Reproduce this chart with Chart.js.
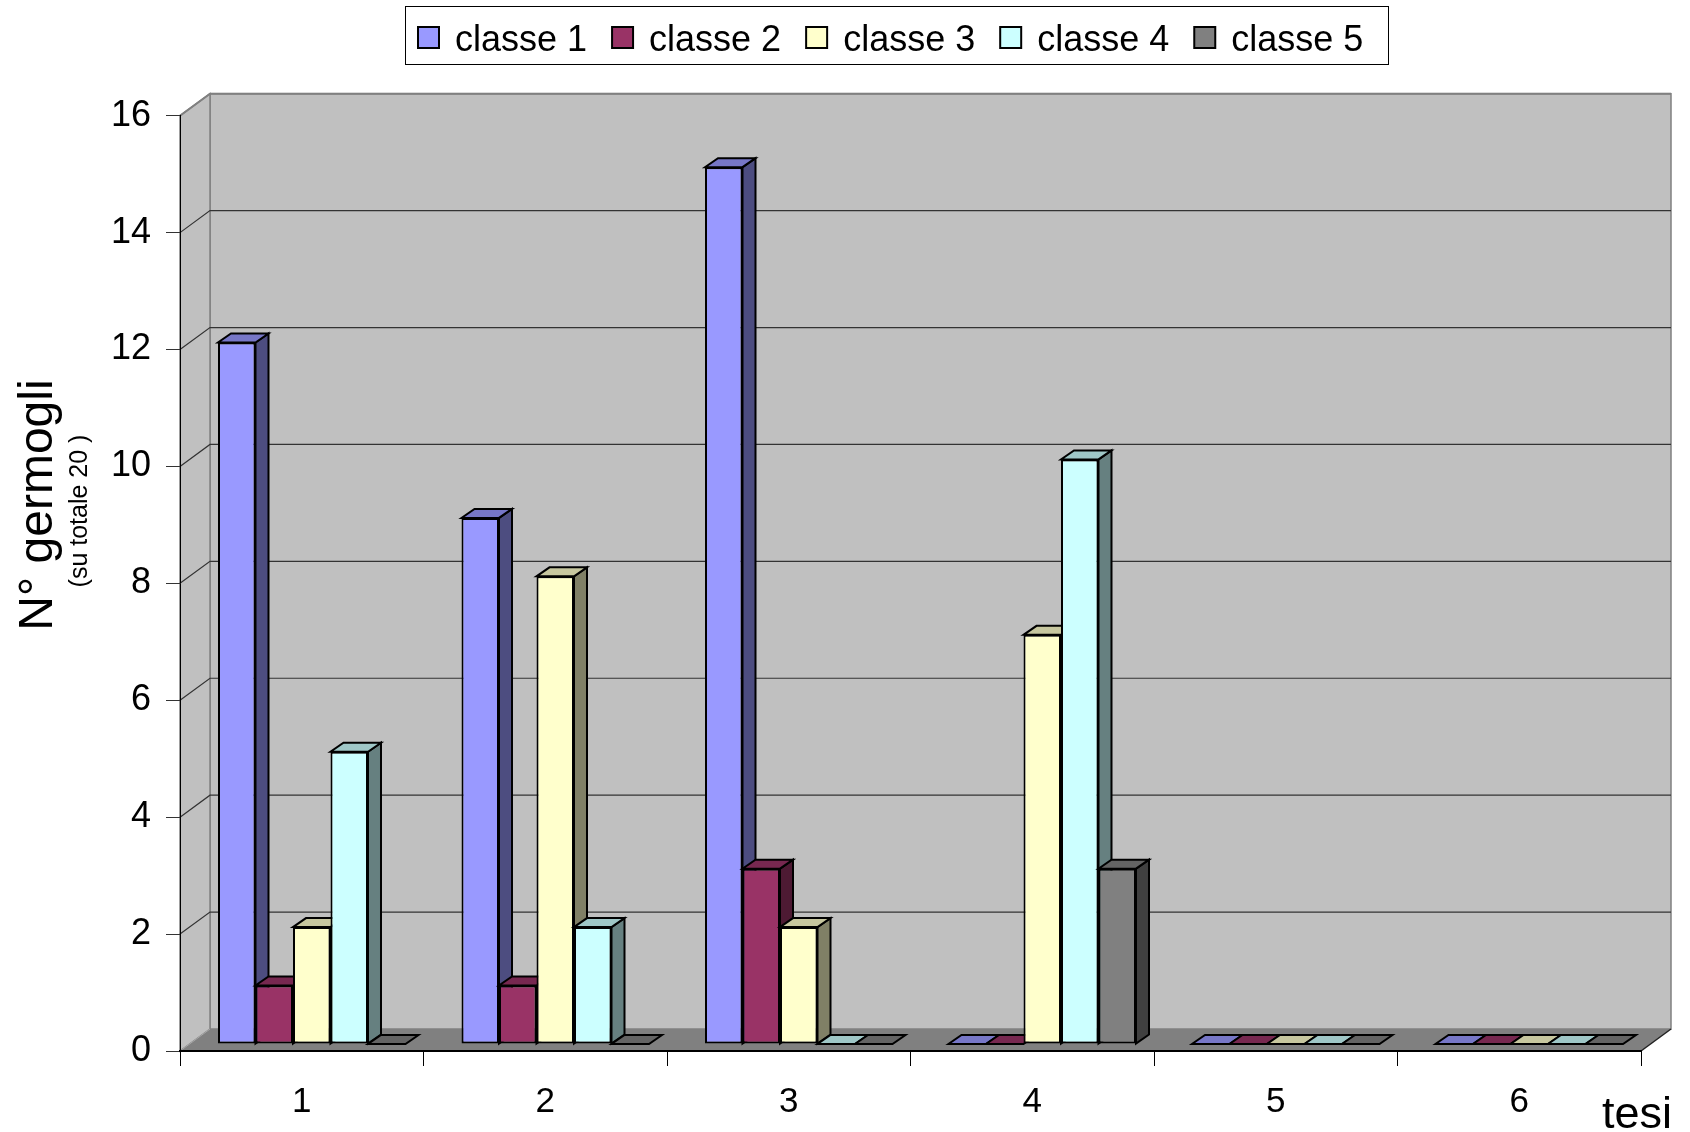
<!DOCTYPE html>
<html>
<head>
<meta charset="utf-8">
<script src="https://cdn.jsdelivr.net/npm/chart.js@4.4.1/dist/chart.umd.min.js"></script>
<style>
    html, body { margin: 0; padding: 0; background: #fff; }
</style>
</head>
<body>
<canvas id="canvas" width="1690" height="1132"></canvas>
<script>
// dati
const tesi = ['1', '2', '3', '4', '5', '6'];
const classe1 = [12, 9, 15, 0, 0, 0];
const classe2 = [1, 1, 3, 0, 0, 0];
const classe3 = [2, 8, 2, 7, 0, 0];
const classe4 = [5, 2, 0, 10, 0, 0];
const classe5 = [0, 0, 0, 3, 0, 0];
const nomiClassi = ['classe 1', 'classe 2', 'classe 3', 'classe 4', 'classe 5'];
const coloriClassi = ['#9999ff', '#993366', '#ffffcc', '#ccffff', '#808080'];
const yTicks = [0, 2, 4, 6, 8, 10, 12, 14, 16];

const FONT = "'Liberation Sans', Arial, sans-serif";

// offset 3D: pareti e barre
const WX = 30, WY = -22;     // parete di fondo
const BX = 10, BY = -7;      // faccia anteriore barre
const DX = 13, DY = -9;      // profondita barre

function shade(hex, f) {
    let n = parseInt(hex.slice(1), 16);
    let r = Math.round(((n >> 16) & 255) * f);
    let g = Math.round(((n >> 8) & 255) * f);
    let b = Math.round((n & 255) * f);
    return 'rgb(' + r + ',' + g + ',' + b + ')';
}

function poly(ctx, pts) {
    ctx.beginPath();
    ctx.moveTo(pts[0][0], pts[0][1]);
    for (let i = 1; i < pts.length; i++) ctx.lineTo(pts[i][0], pts[i][1]);
    ctx.closePath();
}

let series = [classe1, classe2, classe3, classe4, classe5];

let scene3d = {
    id: 'scene3d',
    beforeDraw(chart) {
        let ctx = chart.ctx;
        let a = chart.chartArea;
        let ys = chart.scales.y;
        let L = a.left, R = a.right, T = a.top, B = a.bottom;
        ctx.save();
        ctx.fillStyle = '#fff';
        ctx.fillRect(0, 0, chart.width, chart.height);

        // parete di fondo
        ctx.fillStyle = '#c0c0c0';
        ctx.strokeStyle = '#808080';
        ctx.lineWidth = 1.5;
        ctx.fillRect(L + WX, T + WY, R - L, B - T);
        ctx.strokeRect(L + WX, T + WY, R - L, B - T);

        // parete sinistra
        poly(ctx, [[L, T], [L + WX, T + WY], [L + WX, B + WY], [L, B]]);
        ctx.fill();
        ctx.stroke();

        // pavimento
        ctx.fillStyle = '#808080';
        poly(ctx, [[L, B], [R, B], [R + WX, B + WY], [L + WX, B + WY]]);
        ctx.fill();
        ctx.strokeStyle = '#a8a8a8';
        ctx.lineWidth = 1;
        ctx.beginPath();
        ctx.moveTo(L, B);
        ctx.lineTo(L + WX, B + WY);
        ctx.stroke();
        ctx.strokeStyle = '#222';
        ctx.lineWidth = 1.5;
        ctx.beginPath();
        ctx.moveTo(R, B);
        ctx.lineTo(R + WX, B + WY);
        ctx.stroke();

        // griglia
        yTicks.forEach(function(v) {
            if (v === 0) return;
            let y = ys.getPixelForValue(v);
            let top = v === yTicks[yTicks.length - 1];
            ctx.strokeStyle = top ? '#808080' : '#333';
            ctx.lineWidth = top ? 2 : 1.2;
            ctx.beginPath();
            ctx.moveTo(L, y);
            ctx.lineTo(L + WX, y + WY);
            ctx.lineTo(R + WX, y + WY);
            ctx.stroke();
        });
        ctx.restore();
    },
    // il disegno standard viene sostituito: serve l'ordine da sinistra a destra
    beforeDatasetDraw() {
        return false;
    },
    afterDatasetsDraw(chart) {
        let ctx = chart.ctx;
        ctx.save();
        ctx.translate(BX, BY);
        chart.data.datasets.forEach(function(ds, i) {
            let meta = chart.getDatasetMeta(i);
            let col = coloriClassi[i];
            meta.data.forEach(function(el) {
                el.draw(ctx, chart.chartArea);
                let p = el.getProps(['x', 'y', 'base', 'width'], true);
                let xl = p.x - p.width / 2, xr = p.x + p.width / 2;
                ctx.save();
                ctx.lineWidth = 2;
                ctx.strokeStyle = '#000';
                // lato destro
                if (p.base - p.y > 0.5) {
                    poly(ctx, [[xr, p.y], [xr + DX, p.y + DY], [xr + DX, p.base + DY], [xr, p.base]]);
                    ctx.fillStyle = shade(col, 0.5);
                    ctx.fill();
                    ctx.stroke();
                }
                // faccia superiore
                poly(ctx, [[xl, p.y], [xr, p.y], [xr + DX, p.y + DY], [xl + DX, p.y + DY]]);
                ctx.fillStyle = shade(col, 0.78);
                ctx.fill();
                ctx.stroke();
                ctx.restore();
            });
        });
        ctx.restore();
    },
    afterDraw(chart) {
        let ctx = chart.ctx;
        ctx.save();

        // legenda
        ctx.fillStyle = '#fff';
        ctx.strokeStyle = '#000';
        ctx.lineWidth = 1;
        ctx.fillRect(405.5, 6.5, 983, 58);
        ctx.strokeRect(405.5, 6.5, 983, 58);
        ctx.font = '36px ' + FONT;
        ctx.textBaseline = 'alphabetic';
        ctx.textAlign = 'left';
        let x = 418;
        chart.data.datasets.forEach(function(ds) {
            ctx.fillStyle = ds.backgroundColor;
            ctx.fillRect(x, 27, 21, 21);
            ctx.lineWidth = 2;
            ctx.strokeRect(x, 27, 21, 21);
            ctx.fillStyle = '#000';
            ctx.fillText(ds.label, x + 37, 51);
            x += 37 + ctx.measureText(ds.label).width + 25;
        });

        // titolo asse y
        ctx.fillStyle = '#000';
        ctx.textAlign = 'center';
        ctx.save();
        ctx.translate(52, 505);
        ctx.rotate(-Math.PI / 2);
        ctx.font = '48px ' + FONT;
        ctx.fillText('N° germogli', 0, 0);
        ctx.restore();
        ctx.save();
        ctx.translate(87, 511);
        ctx.rotate(-Math.PI / 2);
        ctx.font = '25px ' + FONT;
        ctx.fillText('(su totale 20 )', 0, 0);
        ctx.restore();

        // titolo asse x
        ctx.textAlign = 'right';
        ctx.font = '45px ' + FONT;
        ctx.fillText('tesi', 1672, 1128);
        ctx.restore();
    }
};

let datasets = series.map(function(values, i) {
    return {
        label: nomiClassi[i],
        data: values,
        backgroundColor: coloriClassi[i],
        borderColor: '#000',
        borderWidth: 2,
        borderSkipped: false,
        barPercentage: 1,
        categoryPercentage: 0.77,
        clip: false
    };
});

let ctx = document.getElementById('canvas').getContext('2d');
let chart = new Chart(ctx, {
    type: 'bar',
    data: {
        labels: tesi,
        datasets: datasets
    },
    options: {
        responsive: false,
        devicePixelRatio: 1,
        animation: false,
        layout: {
            padding: { top: 115.7, right: 49, left: 0, bottom: 0 }
        },
        plugins: {
            legend: { display: false },
            tooltip: { enabled: false }
        },
        scales: {
            x: {
                grid: { drawOnChartArea: false, drawTicks: true, tickLength: 15, color: '#000', offset: true },
                border: { display: true, color: '#000', width: 2 },
                ticks: { font: { family: FONT, size: 35 }, color: '#000', padding: 15 },
                afterFit: function(s) { s.height = 81; }
            },
            y: {
                min: 0,
                max: 16,
                grid: { drawOnChartArea: false, drawTicks: true, tickLength: 14, color: '#333' },
                border: { display: true, color: '#000', width: 1 },
                ticks: { font: { family: FONT, size: 36 }, color: '#000', padding: 15 },
                afterBuildTicks: function(s) { s.ticks = yTicks.map(function(v) { return { value: v }; }); },
                afterFit: function(s) { s.width = 180; }
            }
        }
    },
    plugins: [scene3d]
});
</script>
</body>
</html>
